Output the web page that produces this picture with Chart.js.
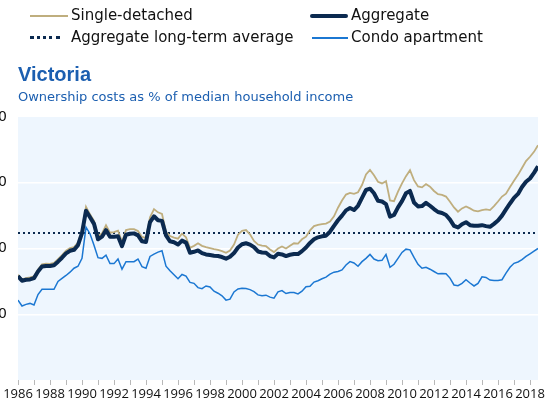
<!DOCTYPE html>
<html>
<head>
<meta charset="utf-8">
<script src="https://cdn.jsdelivr.net/npm/chart.js@4"></script>
<style>
    html, body { margin: 0; padding: 0; background: #fff; }
    body { width: 548px; height: 400px; position: relative; overflow: hidden; font-family: 'DejaVu Sans', sans-serif; }
    #chartBox { position: absolute; left: -30px; top: 0; width: 578px; height: 400px; }
    .legend { position: absolute; font-size: 15px; color: #111; white-space: nowrap; }
    .legend .swatch { display: inline-block; width: 38px; vertical-align: middle; margin-right: 3px; }
    #title { position: absolute; left: 18px; top: 63px; font-family: 'Liberation Sans', sans-serif; font-size: 20px; font-weight: bold; color: #1c5fb0; }
    #subtitle { position: absolute; left: 18px; top: 89px; font-size: 13px; color: #1c5fb0; }
</style>
</head>
<body>
<div id="chartBox"><canvas id="mainChart"></canvas></div>

<div class="legend" style="left:30px; top:6px;"><span class="swatch" style="border-top:2px solid #bfae7e;"></span>Single-detached</div>
<div class="legend" style="left:310px; top:6px;"><span class="swatch" style="border-top:4px solid #0b2a50; border-radius:2px;"></span>Aggregate</div>
<div class="legend" style="left:30px; top:28px;"><span class="swatch" style="border-top:3px dotted #0b2a50; width:30px; margin-right:11px;"></span>Aggregate long-term average</div>
<div class="legend" style="left:312px; top:28px;"><span class="swatch" style="border-top:2px solid #1b77d2; width:36px;"></span>Condo apartment</div>

<div id="title">Victoria</div>
<div id="subtitle">Ownership costs as % of median household income</div>

<script>
// quarterly, 1986 Q1 .. 2018 Q3
const startYear = 1986;

const aggregate = [
    31.6, 30.2, 30.5, 30.6, 31.0, 33.0, 34.5, 34.7, 34.7, 34.9,
    36.0, 37.2, 38.5, 39.3, 39.6, 41.0, 44.7, 51.5, 49.5, 47.5,
    42.8, 43.6, 45.6, 43.6, 43.6, 43.7, 40.7, 44.2, 44.5, 44.6,
    44.0, 42.2, 42.0, 48.0, 49.8, 48.6, 48.4, 44.0, 42.2, 41.9,
    41.2, 42.4, 41.8, 38.7, 39.0, 39.4, 38.6, 38.2, 38.0, 37.8,
    37.7, 37.4, 36.9, 37.5, 38.6, 40.3, 41.3, 41.6, 41.2, 40.4,
    39.1, 38.8, 38.7, 37.7, 37.3, 38.4, 38.2, 37.7, 38.1, 38.3,
    38.3, 39.2, 40.3, 41.7, 42.8, 43.4, 43.7, 43.9, 45.1, 46.9,
    48.6, 50.0, 51.6, 52.3, 51.7, 53.0, 55.4, 57.8, 58.2, 56.8,
    54.5, 54.3, 53.5, 49.7, 50.2, 52.5, 54.4, 56.8, 57.5, 54.0,
    52.8, 52.9, 53.9, 53.0, 52.0, 51.1, 50.8, 50.2, 48.8, 46.9,
    46.4, 47.4, 48.0, 47.1, 46.9, 46.9, 47.1, 46.8, 46.6, 47.5,
    48.5, 50.0, 51.9, 53.7, 55.4, 56.6, 58.7, 60.3, 61.3, 63.0,
    65.0
];

const singleDetached = [
    32.0, 30.6, 31.0, 31.2, 31.5, 33.6, 35.2, 35.4, 35.3, 35.6,
    36.8, 38.0, 39.3, 40.1, 40.4, 41.8, 45.6, 52.7, 50.4, 48.4,
    43.8, 44.6, 47.1, 44.8, 45.0, 45.4, 42.0, 45.6, 45.9, 45.9,
    45.3, 43.5, 43.2, 49.5, 52.0, 51.0, 50.5, 45.0, 43.8, 43.3,
    43.0, 44.5, 43.4, 40.2, 40.8, 41.6, 40.8, 40.4, 40.1, 39.8,
    39.6, 39.2, 38.7, 39.4, 41.2, 44.2, 45.4, 45.6, 44.3, 42.3,
    41.2, 40.9, 40.7, 39.7, 38.9, 40.0, 40.6, 40.0, 40.8, 41.6,
    41.5, 42.8, 43.6, 45.5, 46.8, 47.2, 47.4, 47.6, 48.2, 49.8,
    52.4, 54.6, 56.4, 56.9, 56.6, 57.1, 59.3, 62.5, 63.9, 62.3,
    60.3, 59.8, 60.5, 54.6, 54.4, 57.3, 59.8, 62.0, 63.8, 60.8,
    58.9, 58.6, 59.6, 58.8, 57.5, 56.5, 56.3, 55.8, 54.2, 52.5,
    51.2, 52.2, 52.8, 52.2, 51.5, 51.3, 51.7, 51.9, 51.7, 52.9,
    54.3, 55.8, 56.7, 58.7, 60.6, 62.4, 64.5, 66.6, 67.9, 69.4,
    71.4
];

const condo = [
    24.3, 22.5, 23.0, 23.3, 22.8, 26.0, 27.6, 27.6, 27.6, 27.6,
    30.0, 30.9, 31.8, 32.8, 34.0, 34.6, 37.0, 46.5, 44.5, 41.0,
    37.2, 37.0, 38.0, 35.4, 35.4, 36.8, 33.7, 36.0, 36.0, 36.0,
    36.8, 34.5, 34.0, 37.6, 38.3, 38.9, 39.3, 34.6, 33.2, 32.0,
    30.8, 32.1, 31.6, 29.7, 29.4, 28.1, 27.8, 28.6, 28.3, 27.0,
    26.4, 25.6, 24.3, 24.6, 26.8, 27.7, 27.9, 27.8, 27.5, 26.9,
    25.9, 25.6, 25.8, 25.2, 24.9, 26.8, 27.2, 26.3, 26.6, 26.6,
    26.2, 27.0, 28.4, 28.5, 29.8, 30.2, 30.8, 31.3, 32.2, 32.8,
    33.0, 33.5, 35.0, 36.0, 35.6, 34.6, 36.0, 37.0, 38.2, 36.8,
    36.3, 36.4, 38.2, 34.3, 35.2, 37.0, 38.8, 39.8, 39.6, 37.3,
    35.2, 34.0, 34.3, 33.7, 33.0, 32.3, 32.4, 32.3, 31.0, 28.9,
    28.7, 29.4, 30.5, 29.5, 28.6, 29.4, 31.4, 31.2, 30.4, 30.3,
    30.3, 30.5, 32.5, 34.3, 35.5, 35.9, 36.6, 37.6, 38.4, 39.2,
    40.0
];

const longTermAverage = 44.7;

const yTicks = [0, 20, 40, 60, 80];
const xTickYears = [1986, 1988, 1990, 1992, 1994, 1996, 1998, 2000, 2002, 2004, 2006, 2008, 2010, 2012, 2014, 2016, 2018];

function toPoints(values) {
    return values.map((v, i) => ({ x: startYear + i / 4, y: v }));
}

const plotBackground = {
    id: 'plotBackground',
    beforeDraw(chart) {
        const { ctx, chartArea } = chart;
        ctx.save();
        ctx.fillStyle = '#eef6fe';
        ctx.fillRect(chartArea.left, chartArea.top, chartArea.right - chartArea.left, chartArea.bottom - chartArea.top);
        ctx.restore();
    }
};

const ctx = document.getElementById('mainChart').getContext('2d');

new Chart(ctx, {
    type: 'line',
    data: {
        datasets: [
            {
                label: 'Aggregate long-term average',
                data: [{ x: startYear, y: longTermAverage }, { x: startYear + (aggregate.length - 1) / 4, y: longTermAverage }],
                borderColor: '#0b2a50',
                borderWidth: 2,
                borderDash: [2, 3],
                pointRadius: 0,
                order: 4
            },
            {
                label: 'Condo apartment',
                data: toPoints(condo),
                borderColor: '#1b77d2',
                borderWidth: 1.5,
                pointRadius: 0,
                order: 3
            },
            {
                label: 'Single-detached',
                data: toPoints(singleDetached),
                borderColor: '#bfae7e',
                borderWidth: 1.8,
                pointRadius: 0,
                order: 2
            },
            {
                label: 'Aggregate',
                data: toPoints(aggregate),
                borderColor: '#0b2a50',
                borderWidth: 4,
                pointRadius: 0,
                borderJoinStyle: 'round',
                order: 1
            }
        ]
    },
    options: {
        responsive: true,
        maintainAspectRatio: false,
        animation: false,
        layout: { padding: { top: 117, right: 10, left: 0, bottom: 0 } },
        plugins: {
            legend: { display: false },
            tooltip: { enabled: false }
        },
        scales: {
            x: {
                type: 'linear',
                min: 1986,
                max: 2018.5,
                afterFit: (scale) => { scale.height = 20; },
                afterBuildTicks: (scale) => {
                    const ticks = [];
                    for (let y = 1986; y <= 2018; y++) ticks.push({ value: y });
                    scale.ticks = ticks;
                },
                grid: {
                    drawOnChartArea: false,
                    drawTicks: true,
                    tickLength: 5,
                    color: '#b8b8b8'
                },
                border: { display: false },
                ticks: {
                    autoSkip: false,
                    maxRotation: 0,
                    padding: 1,
                    color: '#111',
                    font: { family: 'Open Sans', size: 13 },
                    callback: (v) => xTickYears.includes(v) ? String(v) : ''
                }
            },
            y: {
                min: 0,
                max: 80,
                afterFit: (scale) => { scale.width = 48; },
                afterBuildTicks: (scale) => { scale.ticks = yTicks.map(v => ({ value: v })); },
                grid: {
                    color: (c) => (c.tick && (c.tick.value === 0 || c.tick.value === 80)) ? 'rgba(0,0,0,0)' : '#ffffff',
                    lineWidth: 1.5,
                    drawTicks: false
                },
                border: { display: false },
                ticks: {
                    padding: 11,
                    color: '#111',
                    font: { family: 'DejaVu Sans', size: 14 },
                    callback: (v) => v === 0 ? '' : String(v)
                }
            }
        }
    },
    plugins: [plotBackground]
});
</script>
</body>
</html>
